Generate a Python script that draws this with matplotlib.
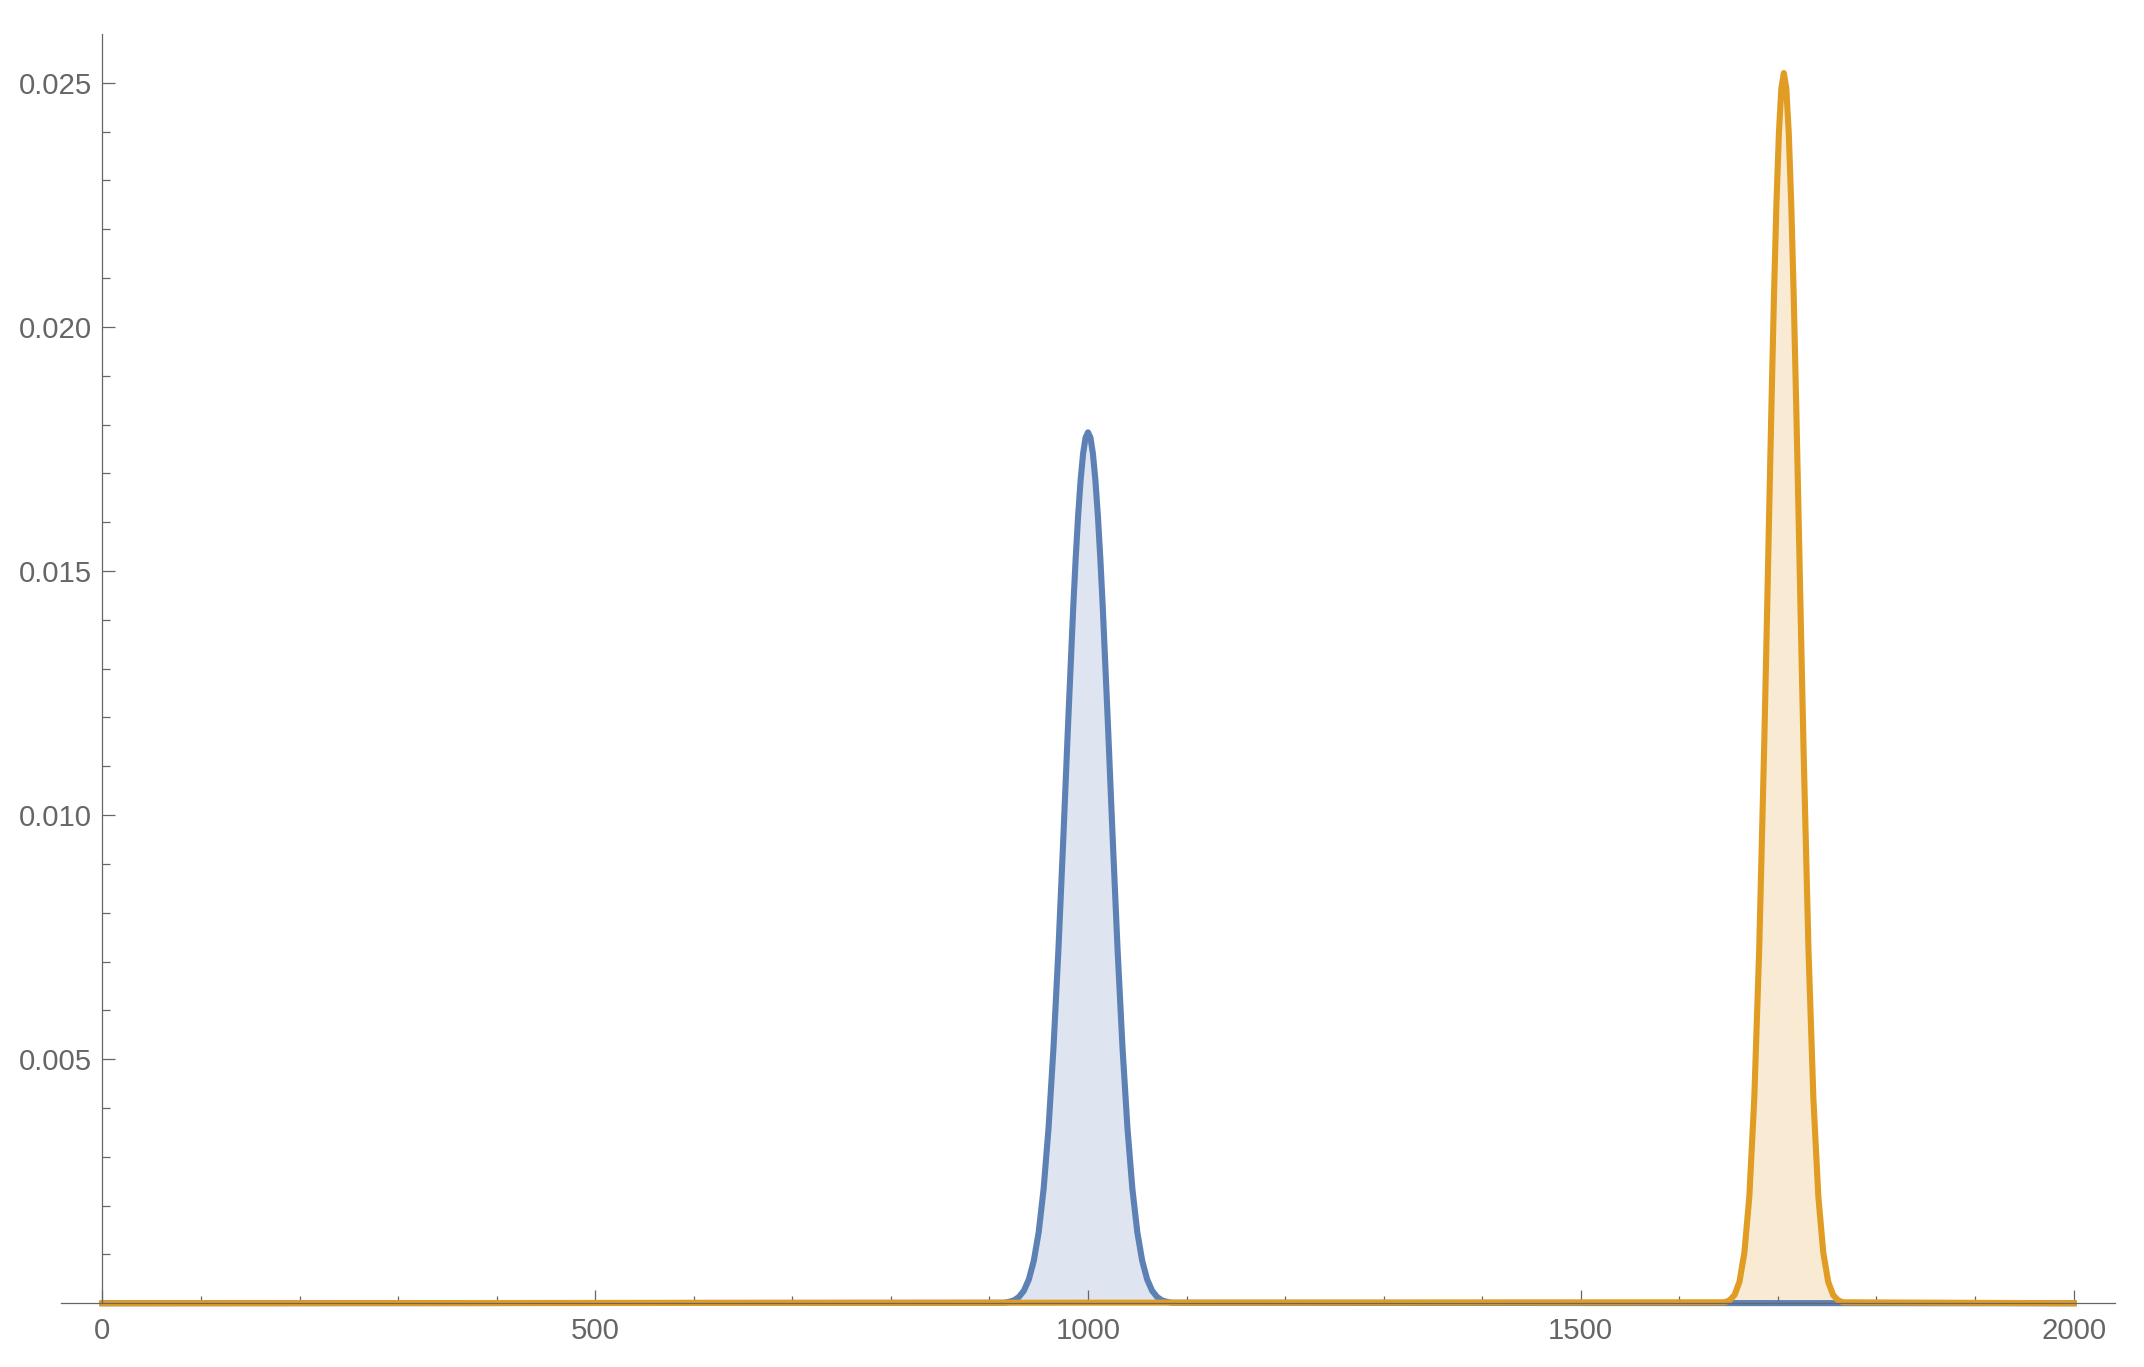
import matplotlib
matplotlib.use("Agg")
import matplotlib.pyplot as plt
from matplotlib.ticker import FixedLocator, FormatStrFormatter

# values (probability per count)
blue_x = [0, 915, 920, 925, 930, 935, 940, 945, 950, 955, 960, 965, 970, 975, 980, 985,
          987.5, 990, 992.5, 995, 997.5, 1000, 1002.5, 1005, 1007.5, 1010, 1012.5,
          1015, 1020, 1025, 1030, 1035, 1040, 1045, 1050,
          1055, 1060, 1065, 1070, 1075, 1080, 1085, 2000]
blue_y = [0, 0.00001, 0.00003, 0.00006, 0.00013, 0.00026, 0.00049, 0.00087, 0.00146,
          0.00235, 0.00360, 0.00524, 0.00725, 0.00955, 0.01196, 0.01425,
          0.01526, 0.01614, 0.01686, 0.01740, 0.01773, 0.01784, 0.01773, 0.01740,
          0.01686, 0.01614, 0.01526,
          0.01425, 0.01196, 0.00955, 0.00725, 0.00524, 0.00360, 0.00235,
          0.00146, 0.00087, 0.00049, 0.00026, 0.00013, 0.00006, 0.00003, 0.00001, 0]

orange_x = [0, 1646, 1651, 1656, 1661, 1666, 1671, 1676, 1681, 1686, 1688.5, 1691, 1693.5,
            1696, 1698.5, 1701, 1703.5, 1706, 1708.5, 1711, 1713.5, 1716, 1718.5, 1721,
            1723.5, 1726, 1731, 1736, 1741, 1746, 1751, 1756, 1761, 1766, 2000]
orange_y = [0, 0.00002, 0.00006, 0.00017, 0.00044, 0.00104, 0.00219, 0.00419, 0.00725,
            0.01135, 0.01368, 0.01609, 0.01845, 0.02065, 0.02253, 0.02397, 0.02489,
            0.02520,
            0.02489, 0.02397, 0.02253, 0.02065, 0.01845, 0.01609, 0.01368,
            0.01135, 0.00725, 0.00419, 0.00219, 0.00104, 0.00044,
            0.00017, 0.00006, 0.00002, 0]

x_major = [0, 500, 1000, 1500, 2000]
y_major = [0.005, 0.010, 0.015, 0.020, 0.025]

blue = "#5E81B5"
orange = "#E19C24"
gray = "#666666"

plt.rcParams["font.family"] = ["Liberation Sans", "DejaVu Sans"]

fig = plt.figure(figsize=(10.72, 6.835), dpi=200)
ax = fig.add_axes([61 / 2144, 1 - 1322.8 / 1367, (2115 - 61) / 2144, (1322.8 - 34) / 1367])

# fills first, then lines (orange on top)
ax.fill_between(blue_x, blue_y, 0, color=blue, alpha=0.2, linewidth=0)
ax.fill_between(orange_x, orange_y, 0, color=orange, alpha=0.2, linewidth=0)
ax.plot(blue_x, blue_y, color=blue, linewidth=2.2, solid_joinstyle="round")
ax.plot(orange_x, orange_y, color=orange, linewidth=2.2, solid_joinstyle="round")

ax.set_xlim(-42, 2042)
ax.set_ylim(-0.0004, 0.026)

for s in ["top", "right"]:
    ax.spines[s].set_visible(False)
ax.spines["left"].set_position(("data", 0))
ax.spines["bottom"].set_position(("data", 0))
ax.spines["left"].set_bounds(0, 0.026)
for s in ["left", "bottom"]:
    ax.spines[s].set_color(gray)
    ax.spines[s].set_linewidth(0.45)

ax.xaxis.set_major_locator(FixedLocator(x_major))
ax.xaxis.set_minor_locator(FixedLocator([v for v in range(100, 2000, 100) if v % 500]))
ax.yaxis.set_major_locator(FixedLocator(y_major))
ax.yaxis.set_minor_locator(FixedLocator([i / 1000 for i in range(1, 25) if i % 5]))
ax.yaxis.set_major_formatter(FormatStrFormatter("%.3f"))

ax.tick_params(which="both", direction="in", color=gray, width=0.45, labelcolor=gray,
               labelsize=10.6)
ax.tick_params(which="major", length=4.6)
ax.tick_params(which="minor", length=2.7)
ax.tick_params(axis="y", which="major", pad=3.8)
ax.tick_params(axis="x", which="major", pad=5.0)

fig.savefig("out.png", dpi=200)
